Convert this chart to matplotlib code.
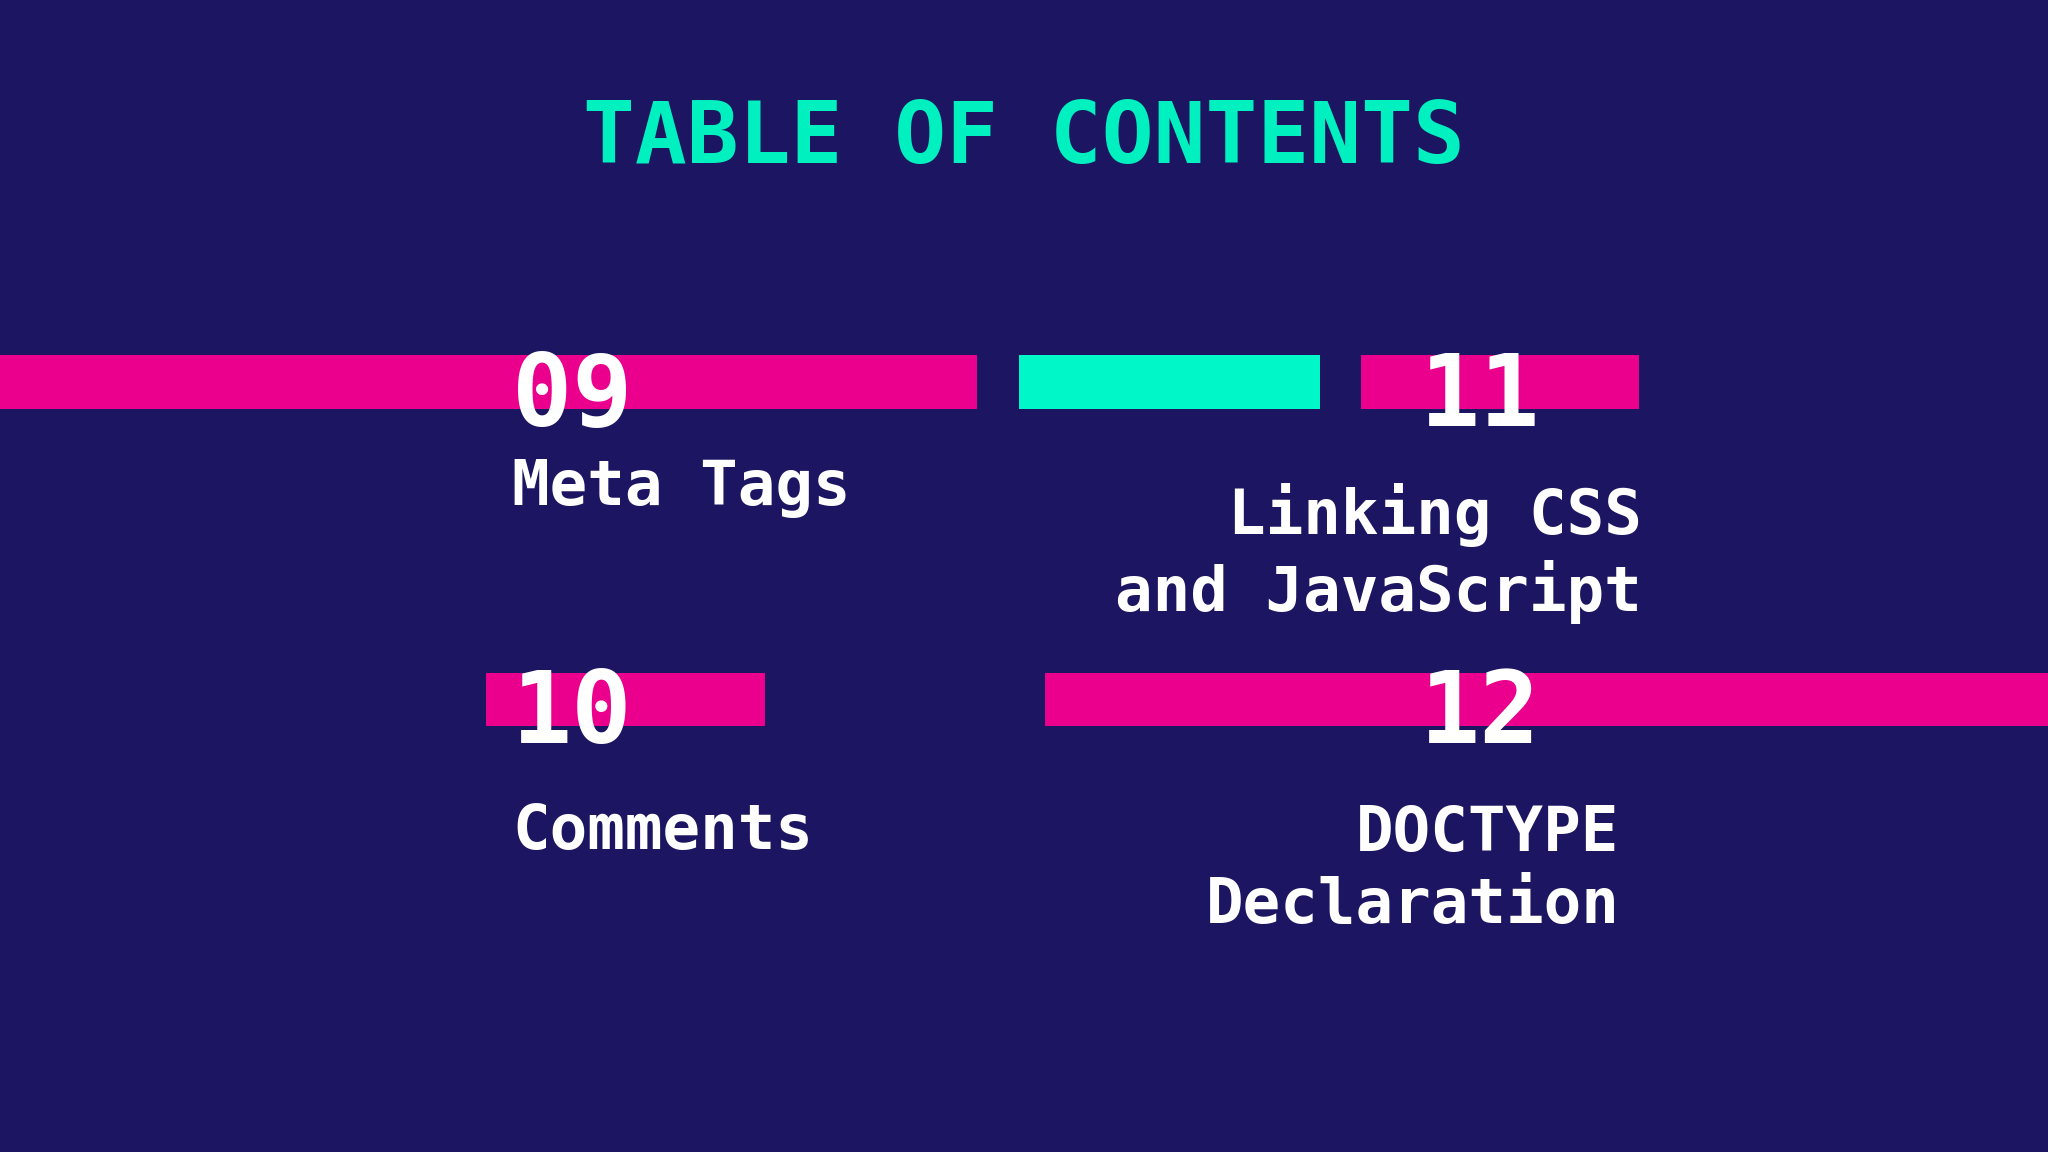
import matplotlib
matplotlib.use("Agg")
import matplotlib.pyplot as plt
from matplotlib.patches import Rectangle

numbers = ["09", "10", "11", "12"]
titles = ["Meta Tags", "Comments", "Linking CSS\nand JavaScript", "DOCTYPE\nDeclaration"]
heading = "TABLE OF CONTENTS"

BG = "#1c1562"; PINK = "#ea008c"; TEAL = "#00f8c8"
W, H = 1568, 882
fig = plt.figure(figsize=(20.48, 11.52), dpi=100, facecolor=BG)
ax = fig.add_axes([0, 0, 1, 1]); ax.set_xlim(0, W); ax.set_ylim(H, 0); ax.axis("off")
ax.set_facecolor(BG)

bars = [(0, 272, 748, PINK), (780, 272, 231, TEAL), (1042, 272, 213, PINK),
        (372, 515, 214, PINK), (800, 515, 768, PINK)]
for x, y, w, c in bars:
    ax.add_patch(Rectangle((x, y), w, 41, color=c, lw=0, zorder=1))

mono = "DejaVu Sans Mono"
ax.text(784, 107, heading, color="#00f0c0", fontsize=62, fontweight="bold",
        family=mono, ha="center", va="center")

num_pos = [(392, 305, "left"), (392, 548, "left"), (1133, 305, "center"), (1133, 548, "center")]
for n, (x, y, ha) in zip(numbers, num_pos):
    ax.text(x, y, n, color="white", fontsize=72, fontweight="bold", family=mono,
            ha=ha, va="center", zorder=3)

title_pos = [(392, 374, "left"), (392, 637, "left"), (1257, 424, "right"), (1240, 666, "right")]
for t, (x, y, ha) in zip(titles, title_pos):
    ax.text(x, y, t, color="white", fontsize=45, fontweight="bold", family=mono,
            ha=ha, va="center", multialignment="right" if ha == "right" else "left",
            linespacing=1.25, zorder=3)

fig.savefig("out.png", dpi=100, facecolor=BG)
